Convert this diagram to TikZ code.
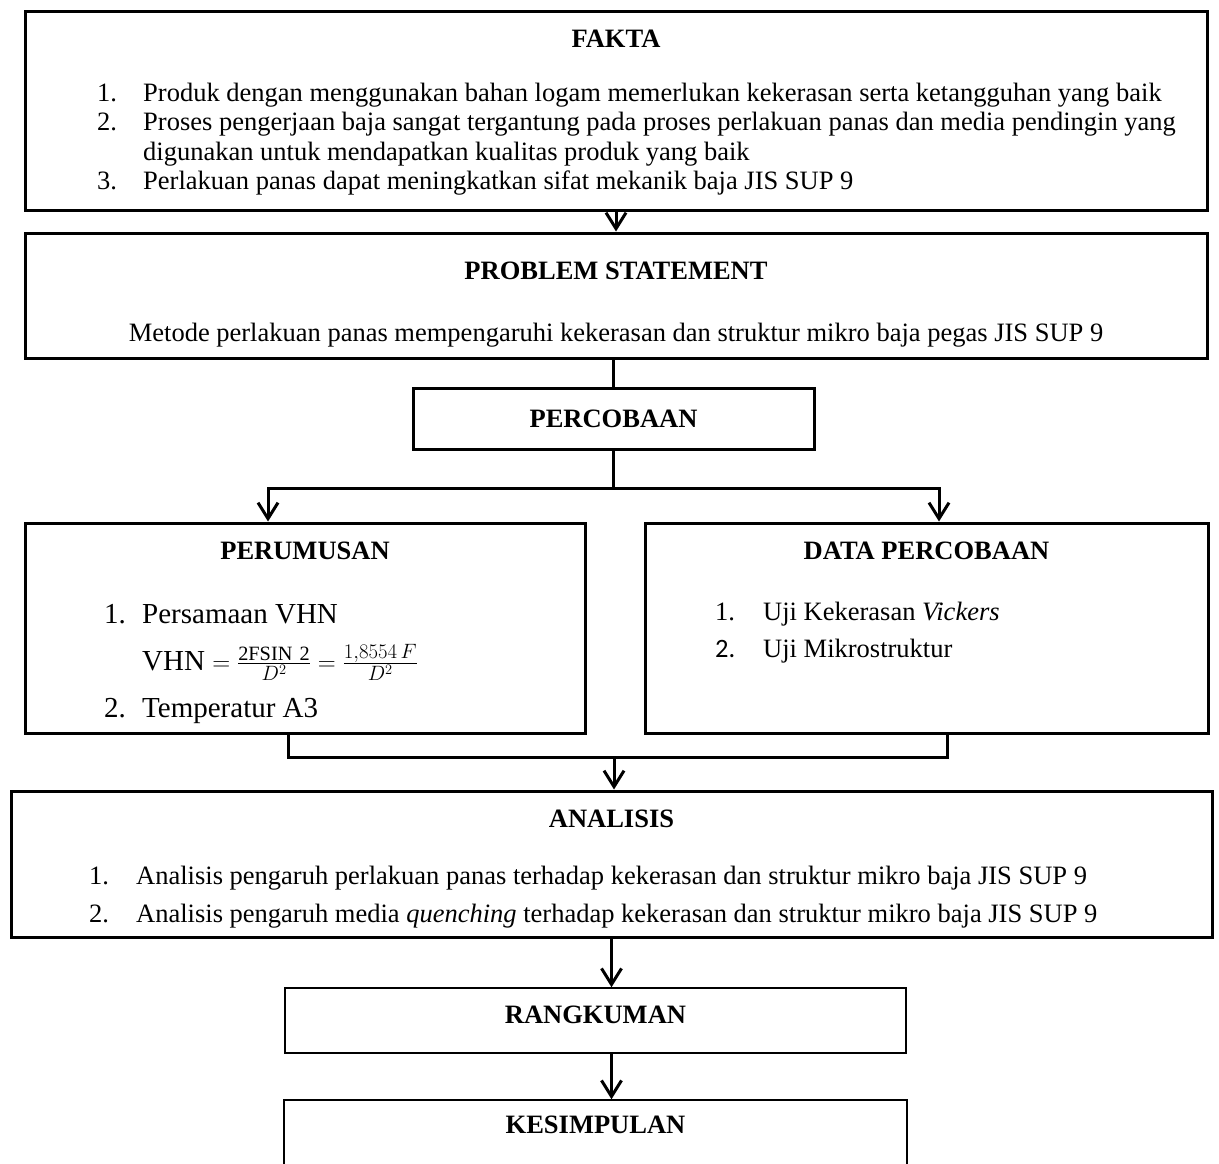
\documentclass[tikz,border=0pt]{standalone}
\usepackage{fontspec}
\setmainfont{Liberation Serif}
\newfontfamily\carlito{Carlito}
\usepackage{amsmath}
\usetikzlibrary{positioning, arrows.meta}

\begin{document}
\begin{tikzpicture}[x=1pt, y=-1pt,
    box/.style={draw, line width=3pt, inner sep=0pt},
    thinbox/.style={draw, line width=1.5pt, inner sep=0pt},
    ttl/.style={anchor=base, inner sep=0pt, font=\fontsize{26.5}{29}\selectfont\bfseries},
    ctxt/.style={anchor=base, inner sep=0pt, font=\fontsize{26.5}{29}\selectfont},
    txt/.style={anchor=base west, inner sep=0pt, font=\fontsize{26.5}{29}\selectfont},
    bigtxt/.style={anchor=base west, inner sep=0pt, font=\fontsize{29}{32}\selectfont},
    link/.style={line width=3pt},
    arr/.style={line width=3pt, -{Straight Barb[length=16pt, width=20pt]}}]
    \useasboundingbox (0,0) rectangle (1219,1164);
    \clip (0,0) rectangle (1219,1164);

    % Fakta
    \node[box, minimum width=1182pt, minimum height=198pt] (fakta) at (616,111) {};
    \node[ttl] (faktaT) at (616,48) {FAKTA};
    \node[txt] (fakta1n) at (97,102) {1.};
    \node[txt] (fakta1) at (143,102) {Produk dengan menggunakan bahan logam memerlukan kekerasan serta ketangguhan yang baik};
    \node[txt] (fakta2n) at (97,131) {2.};
    \node[txt] (fakta2) at (143,131) {Proses pengerjaan baja sangat tergantung pada proses perlakuan panas dan media pendingin yang};
    \node[txt] (fakta2b) at (143,160) {digunakan untuk mendapatkan kualitas produk yang baik};
    \node[txt] (fakta3n) at (97,189) {3.};
    \node[txt] (fakta3) at (143,189) {Perlakuan panas dapat meningkatkan sifat mekanik baja JIS SUP 9};

    % Problem statement
    \node[box, minimum width=1182pt, minimum height=125pt] (problem) at (616,295.5) {};
    \node[ttl] (problemT) at (616,279) {PROBLEM STATEMENT};
    \node[ctxt] (problem1) at (616,341) {Metode perlakuan panas mempengaruhi kekerasan dan struktur mikro baja pegas JIS SUP 9};

    % Percobaan
    \node[box, minimum width=401pt, minimum height=61pt] (percobaan) at (613.5,418.5) {};
    \node[ttl] (percobaanT) at (613.5,427) {PERCOBAAN};

    % Perumusan
    \node[box, minimum width=560pt, minimum height=210pt] (perumusan) at (305,628) {};
    \node[ttl] (perumusanT) at (305,559) {PERUMUSAN};
    \node[bigtxt] (perumusan1n) at (104,623) {1.};
    \node[bigtxt] (perumusan1) at (142,623) {Persamaan VHN};
    \node[bigtxt] (rumus) at (142,670) {VHN $=\frac{\mathrm{2FSIN\ 2}}{D^2}=\frac{1{,}8554\,F}{D^2}$};
    \node[bigtxt] (perumusan2n) at (104,717) {2.};
    \node[bigtxt] (perumusan2) at (142,717) {Temperatur A3};

    % Data percobaan
    \node[box, minimum width=563pt, minimum height=210pt] (data) at (926.5,628) {};
    \node[ttl] (dataT) at (926.5,559) {DATA PERCOBAAN};
    \node[txt] (data1n) at (715,620) {1.};
    \node[txt] (data1) at (763,620) {Uji Kekerasan \textit{Vickers}};
    \node[txt] (data2n) at (715,657) {\carlito 2.};
    \node[txt] (data2) at (763,657) {Uji Mikrostruktur};

    % Analisis
    \node[box, minimum width=1201pt, minimum height=146pt] (analisis) at (611.5,864) {};
    \node[ttl] (analisisT) at (611.5,827) {ANALISIS};
    \node[txt] (analisis1n) at (89,884) {1.};
    \node[txt] (analisis1) at (136,884) {Analisis pengaruh perlakuan panas terhadap kekerasan dan struktur mikro baja JIS SUP 9};
    \node[txt] (analisis2n) at (89,922) {2.};
    \node[txt] (analisis2) at (136,922) {Analisis pengaruh media \textit{quenching} terhadap kekerasan dan struktur mikro baja JIS SUP 9};

    % Rangkuman dan kesimpulan
    \node[thinbox, minimum width=621pt, minimum height=65pt] (rangkuman) at (595.5,1020.5) {};
    \node[ttl] (rangkumanT) at (595.5,1023) {RANGKUMAN};
    \node[thinbox, minimum width=623pt, minimum height=100pt] (kesimpulan) at (595.5,1150) {};
    \node[ttl] (kesimpulanT) at (595.5,1133) {KESIMPULAN};

    % Connectors
    \coordinate (split) at (613.5,488);
    \coordinate (splitL) at (268,488);
    \coordinate (splitR) at (939,488);
    \coordinate (joinL) at (288,757);
    \coordinate (joinR) at (947,757);
    \coordinate (joinM) at (614,757);

    \draw[arr] (fakta.south) -- (problem.north);
    \draw[link] (percobaan.north |- problem.south) -- (percobaan.north);
    \draw[link] (percobaan.south) -- (split);
    \draw[line width=3pt, {Straight Barb[length=16pt, width=20pt]}-{Straight Barb[length=16pt, width=20pt]}]
        (splitL |- perumusan.north) -- (splitL) -- (splitR) -- (splitR |- data.north);
    \draw[link] (joinL |- perumusan.south) -- (joinL) -- (joinR) -- (joinR |- data.south);
    \draw[arr] (joinM) -- (joinM |- analisis.north);
    \draw[arr] (analisis.south) -- (analisis.south |- rangkuman.north);
    \draw[arr] (analisis.south |- rangkuman.south) -- (analisis.south |- kesimpulan.north);
\end{tikzpicture}
\end{document}
